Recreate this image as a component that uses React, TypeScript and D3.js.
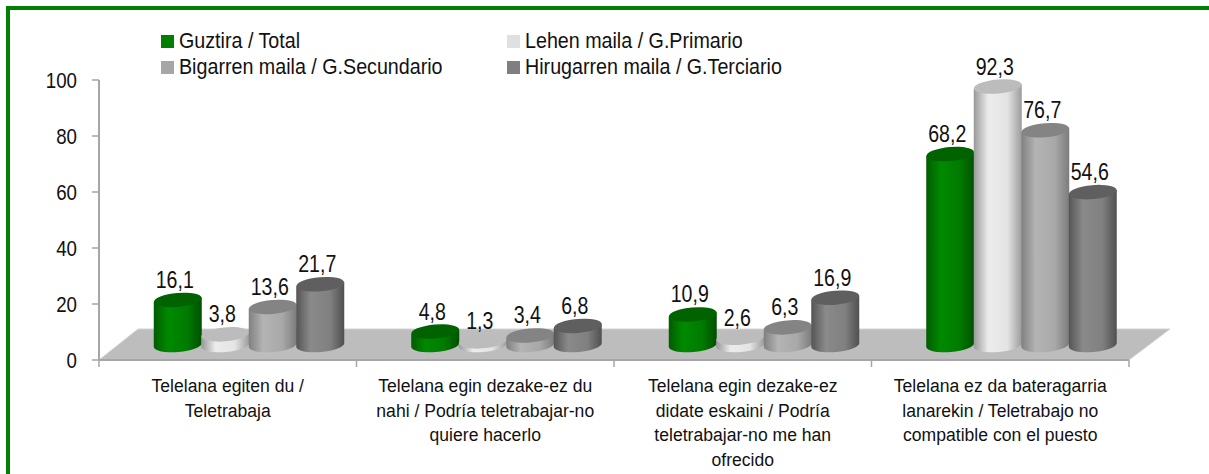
import React from 'react';
import { scaleBand, scaleLinear, line } from 'd3';

const categories = [
  ['Telelana egiten du /', 'Teletrabaja'],
  ['Telelana egin dezake-ez du', 'nahi / Podría teletrabajar-no', 'quiere hacerlo'],
  ['Telelana egin dezake-ez', 'didate eskaini / Podría', 'teletrabajar-no me han', 'ofrecido'],
  ['Telelana ez da bateragarria', 'lanarekin / Teletrabajo no', 'compatible con el puesto'],
];
const seriesNames = [
  'Guztira / Total',
  'Lehen maila / G.Primario',
  'Bigarren maila / G.Secundario',
  'Hirugarren maila / G.Terciario',
];
const total = [16.1, 4.8, 10.9, 68.2];
const primario = [3.8, 1.3, 2.6, 92.3];
const secundario = [13.6, 3.4, 6.3, 76.7];
const terciario = [21.7, 6.8, 16.9, 54.6];
const seriesValues = [total, primario, secundario, terciario];
const yTicks = [0, 20, 40, 60, 80, 100];

const legendColors = ['#008000', '#e0e0e0', '#a6a6a6', '#7f7f7f'];
const sideColors = [
  ['#005c00', '#008a00', '#007a00', '#005000'],
  ['#989898', '#ececec', '#e4e4e4', '#9c9c9c'],
  ['#808080', '#b4b4b4', '#a8a8a8', '#7c7c7c'],
  ['#555555', '#8a8a8a', '#808080', '#505050'],
];
const topColors = ['#006400', '#bcbcbc', '#848484', '#5e5e5e'];

const x0 = scaleBand<number>().domain([0, 1, 2, 3]).range([99, 1129]);
const xBar = scaleBand<number>().domain([0, 1, 2, 3]).range([55, 245]);
const y = scaleLinear().domain([0, 100]).range([360, 80]);
// columns stand further back on the floor
const yBar = scaleLinear().domain([0, 100]).range([345, 65]);

const floorPath = line()([
  [x0.range()[0], y(0)],
  [x0.range()[0] + 39, y(0) - 31],
  [x0.range()[1] + 41, y(0) - 31],
  [x0.range()[1], y(0)],
]) + 'Z';

const rx = 24;
const ry = 7;
const tilt = -5;

function Cylinder({ cx, top, bottom, s }: { cx: number; top: number; bottom: number; s: number }) {
  const dy = rx * Math.tan((tilt * Math.PI) / 180);
  const d = `M${cx - rx},${top - dy}L${cx - rx},${bottom - dy}
    A${rx},${ry} ${tilt} 0 0 ${cx + rx},${bottom + dy}L${cx + rx},${top + dy}Z`;
  return (
    <g filter="url(#soft)">
      <path d={d} fill={`url(#side${s})`} />
      <ellipse cx={cx} cy={top} rx={rx} ry={ry} fill={topColors[s]} transform={`rotate(${tilt} ${cx} ${top})`} />
    </g>
  );
}

// the original text is a squeezed Arial, so narrow it horizontally
function Label({ x, y, size, sx, anchor, children }: any) {
  return (
    <text transform={`translate(${x},${y}) scale(${sx},1)`} textAnchor={anchor} fontSize={size}
      fontFamily='"Liberation Sans", Arial, sans-serif' fill="#111">
      {children}
    </text>
  );
}

export default function App() {
  return (
    <svg width={1209} height={474} style={{ position: 'absolute', left: 0, top: 0, background: '#fff' }}>
      <defs>
        <filter id="soft" x="-10%" y="-10%" width="120%" height="120%">
          <feGaussianBlur stdDeviation="0.5" />
        </filter>
        {sideColors.map((c, i) => (
          <linearGradient id={`side${i}`} key={i} x1="0" x2="1" y1="0" y2="0">
            <stop offset="0" stopColor={c[0]} />
            <stop offset="0.3" stopColor={c[1]} />
            <stop offset="0.7" stopColor={c[2]} />
            <stop offset="1" stopColor={c[3]} />
          </linearGradient>
        ))}
      </defs>

      <rect x={6} y={6} width={1203} height={4} fill="#008000" />
      <rect x={6} y={6} width={4} height={468} fill="#008000" />

      <path d={floorPath} fill="#bdbdbd" stroke="#d4d4d4" strokeWidth={1} />
      <line x1={99} x2={1129} y1={y(0)} y2={y(0)} stroke="#a6a6a6" strokeWidth={2} />
      <line x1={99} x2={99} y1={y(100)} y2={y(0)} stroke="#a6a6a6" strokeWidth={2} />
      {yTicks.map(t => (
        <g key={t}>
          <line x1={92} x2={99} y1={y(t)} y2={y(t)} stroke="#a6a6a6" strokeWidth={1.5} />
          <Label x={77} y={y(t) + 8} size={22} sx={0.85} anchor="end">{t}</Label>
        </g>
      ))}
      {[0, 1, 2, 3, 4].map(i => {
        const px = 99 + i * x0.step();
        return <line key={i} x1={px} x2={px} y1={y(0)} y2={y(0) + 7} stroke="#a6a6a6" strokeWidth={1.5} />;
      })}

      {categories.map((_, c) => (
        <g key={c}>
          {seriesValues.map((vals, s) => (
            <Cylinder key={s} s={s}
              cx={x0(c)! + xBar(s)! + xBar.bandwidth() / 2}
              top={yBar(vals[c])} bottom={yBar(0)} />
          ))}
          {seriesValues.map((vals, s) => (
            <Label key={s} x={x0(c)! + xBar(s)! + xBar.bandwidth() / 2 - 3} y={yBar(vals[c]) - 12}
              size={23} sx={0.85} anchor="middle">
              {String(vals[c]).replace('.', ',')}
            </Label>
          ))}
        </g>
      ))}

      {categories.map((lines, c) => lines.map((l, i) => (
        <Label key={l} x={x0(c)! + x0.bandwidth() / 2} y={392 + i * 24.6} size={19} sx={0.925} anchor="middle">{l}</Label>
      )))}

      {seriesNames.map((n, i) => {
        const lx = i % 2 === 0 ? 161 : 507;
        const ly = i < 2 ? 35 : 61;
        return (
          <g key={n}>
            <rect x={lx} y={ly} width={13} height={13} fill={legendColors[i]} />
            <Label x={lx + 18} y={ly + 13} size={22} sx={0.895} anchor="start">{n}</Label>
          </g>
        );
      })}
    </svg>
  );
}
